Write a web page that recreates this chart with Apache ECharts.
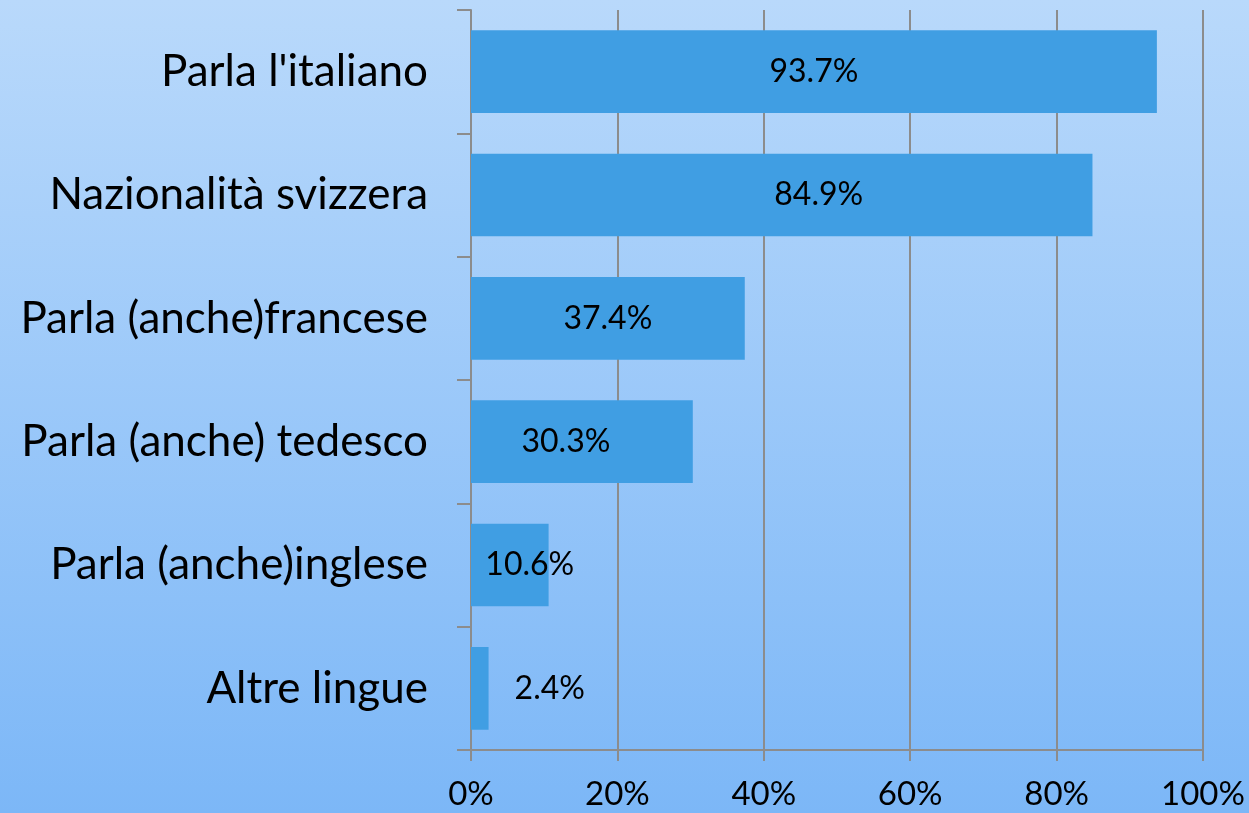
<!DOCTYPE html>
<html>
<head>
<meta charset="utf-8">
<script src="https://cdn.jsdelivr.net/npm/echarts@6/dist/echarts.min.js"></script>
<style>
html,body{margin:0;padding:0;}
#chart{width:1249px;height:813px;}
</style>
</head>
<body>
<div id="chart"></div>
<script>
const categories = ["Parla l'italiano", "Nazionalità svizzera", "Parla (anche)francese", "Parla (anche) tedesco", "Parla (anche)inglese", "Altre lingue"];
const values = [93.7, 84.9, 37.4, 30.3, 10.6, 2.4];
const xTicks = [0, 20, 40, 60, 80, 100];

const FONT = 'Lato';
const labelOffsets = [[0,0],[37,0],[0,0],[-16,0],[20,0],[0,0]];

const chart = echarts.init(document.getElementById('chart'));
chart.setOption({
  backgroundColor: {
    type: 'linear', x: 0, y: 0, x2: 0, y2: 1,
    colorStops: [{offset: 0, color: '#b9d9fb'}, {offset: 1, color: '#7cb7f7'}]
  },
  animation: false,
  grid: {left: 471, right: 46, top: 10, bottom: 63},
  xAxis: {
    type: 'value', min: xTicks[0], max: xTicks[xTicks.length-1], interval: 20,
    axisLine: {show: true, lineStyle: {color: '#8c8c8c', width: 2}},
    axisTick: {show: true, length: 11, lineStyle: {color: '#8c8c8c', width: 2}},
    splitLine: {show: true, lineStyle: {color: '#8c8c8c', width: 2}},
    axisLabel: {formatter: v => v + '%', color: '#000', fontFamily: FONT, fontSize: 33, margin: 28}
  },
  yAxis: {
    type: 'category', data: categories, inverse: true,
    axisLine: {show: true, lineStyle: {color: '#8c8c8c', width: 2}},
    axisTick: {show: true, length: 14, alignWithLabel: false, lineStyle: {color: '#8c8c8c', width: 2}},
    axisLabel: {color: '#000', fontFamily: FONT, fontSize: 44, margin: 43}
  },
  series: [{
    type: 'bar',
    barCategoryGap: '33%',
    itemStyle: {color: '#409ee3'},
    data: values.map((v, i) => ({
      value: v,
      label: {
        show: true,
        position: v < 5 ? 'right' : 'inside',
        distance: 26,
        offset: labelOffsets[i],
        formatter: p => p.value.toFixed(1) + '%',
        color: '#000', fontFamily: FONT, fontSize: 32
      }
    }))
  }]
});
</script>
</body>
</html>
